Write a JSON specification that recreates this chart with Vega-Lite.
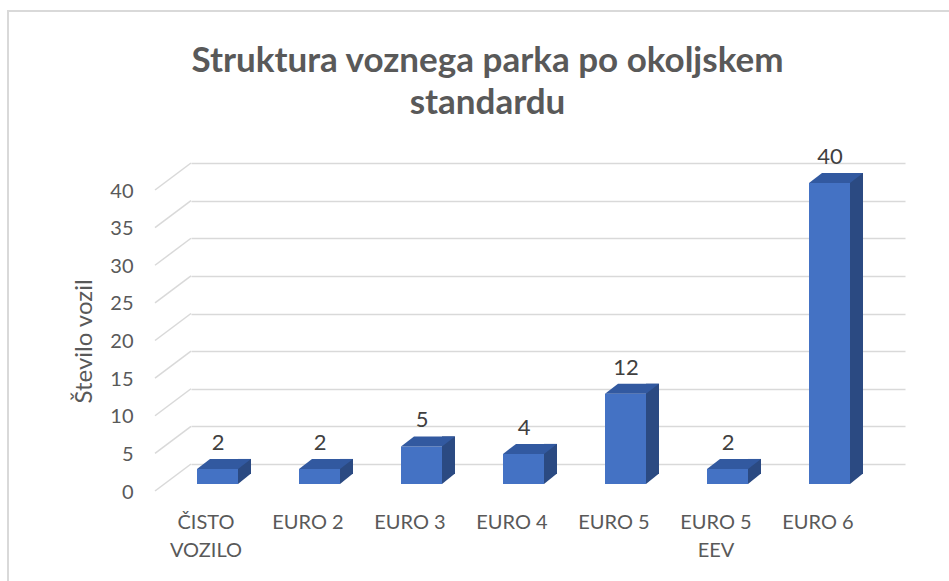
{
  "$schema": "https://vega.github.io/schema/vega-lite/v6.json",
  "width": 941,
  "height": 570,
  "autosize": {"type": "none"},
  "padding": {"left": 8, "top": 11, "right": 0, "bottom": 0},
  "background": "white",
  "config": {
    "view": {"stroke": "#D9D9D9", "strokeWidth": 2, "strokeDash": [941, 1511, 570]},
    "font": "Lato"
  },
  "title": {
    "text": ["Struktura voznega parka po okoljskem", "standardu"],
    "font": "Lato",
    "fontSize": 35,
    "fontWeight": "bold",
    "color": "#595959",
    "anchor": "middle",
    "frame": "group",
    "baseline": "top",
    "offset": 0,
    "dy": 110,
    "dx": 9,
    "lineHeight": 42
  },
  "datasets": {
    "bars": [
      {"cat": "ČISTO VOZILO", "value": 2},
      {"cat": "EURO 2", "value": 2},
      {"cat": "EURO 3", "value": 5},
      {"cat": "EURO 4", "value": 4},
      {"cat": "EURO 5", "value": 12},
      {"cat": "EURO 5 EEV", "value": 2},
      {"cat": "EURO 6", "value": 40}
    ],
    "ticks": [
      {"tick": 0}, {"tick": 5}, {"tick": 10}, {"tick": 15}, {"tick": 20},
      {"tick": 25}, {"tick": 30}, {"tick": 35}, {"tick": 40}
    ]
  },
  "layer": [
    {
      "data": {"name": "ticks"},
      "mark": {"type": "point", "shape": "M-51,0L-87,27", "size": 4, "filled": false, "opacity": 1, "stroke": "#D9D9D9", "strokeWidth": 1.5},
      "encoding": {
        "x": {"datum": "ČISTO VOZILO", "type": "nominal"},
        "y": {"field": "tick", "type": "quantitative"}
      }
    },
    {
      "data": {"name": "bars"},
      "mark": {"type": "bar", "width": 13, "xOffset": 2.5, "yOffset": 10, "y2Offset": 10, "color": "#2B4A82"},
      "encoding": {
        "x": {
          "field": "cat", "type": "nominal", "sort": null,
          "scale": {"range": [183, 897], "paddingInner": 0, "paddingOuter": 0},
          "axis": {
            "title": null, "domain": false, "ticks": false, "grid": false,
            "labelFont": "Lato", "labelFontSize": 20, "labelColor": "#595959",
            "labelAngle": 0, "labelAlign": "center", "labelOffset": -36, "offset": -76, "labelPadding": 17,
            "labelLineHeight": 28,
            "labelExpr": "datum.value == 'ČISTO VOZILO' ? ['ČISTO', 'VOZILO'] : datum.value == 'EURO 5 EEV' ? ['EURO 5', 'EEV'] : datum.label"
          }
        },
        "y": {
          "field": "value", "type": "quantitative",
          "scale": {"domain": [0, 40], "range": [453, 152], "nice": false},
          "axis": {
            "title": "Število vozil",
            "values": [0, 5, 10, 15, 20, 25, 30, 35, 40],
            "grid": true, "gridColor": "#D9D9D9", "gridWidth": 1.5,
            "domain": false, "ticks": false,
            "offset": -140, "labelPadding": 15, "labelOffset": 28,
            "labelFont": "Lato", "labelFontSize": 20, "labelColor": "#595959",
            "titleFont": "Lato", "titleFontSize": 24, "titleColor": "#595959", "titleFontWeight": "normal",
            "titleX": -64, "titleY": 330, "titleAngle": -90, "titleAlign": "center", "titleBaseline": "middle"
          }
        },
        "y2": {"datum": 0}
      }
    },
    {
      "data": {"name": "bars"},
      "mark": {"type": "bar", "width": 41, "xOffset": -24.5, "yOffset": 20, "y2Offset": 20, "color": "#4472C4"},
      "encoding": {
        "x": {"field": "cat", "type": "nominal", "sort": null},
        "y": {"field": "value", "type": "quantitative"},
        "y2": {"datum": 0}
      }
    },
    {
      "data": {"name": "bars"},
      "mark": {"type": "point", "shape": "M-45,20L-4,20L9,10L-32,10Z", "size": 4, "filled": true, "opacity": 1, "color": "#3259A0", "strokeWidth": 0},
      "encoding": {
        "x": {"field": "cat", "type": "nominal", "sort": null},
        "y": {"field": "value", "type": "quantitative"}
      }
    },
    {
      "data": {"name": "bars"},
      "mark": {"type": "point", "shape": "M-4,9.5L-4,20L9,9.5Z", "size": 4, "filled": true, "opacity": 1, "color": "#2B4A82", "strokeWidth": 0},
      "encoding": {
        "x": {"field": "cat", "type": "nominal", "sort": null},
        "y": {"datum": 0, "type": "quantitative"}
      }
    },
    {
      "data": {"name": "bars"},
      "mark": {"type": "text", "dx": -24, "dy": 1, "baseline": "alphabetic", "fontSize": 22, "font": "Lato", "color": "#404040"},
      "encoding": {
        "x": {"field": "cat", "type": "nominal", "sort": null},
        "y": {"field": "value", "type": "quantitative"},
        "text": {"field": "value", "type": "quantitative"}
      }
    }
  ]
}
